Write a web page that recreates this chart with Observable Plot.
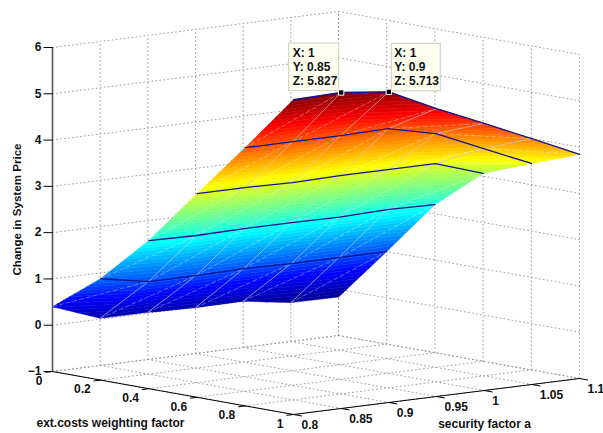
<!DOCTYPE html>
<html><head><meta charset="utf-8">
<style>html,body{margin:0;padding:0;background:#fff}svg{display:block}</style>
<script src="https://cdn.jsdelivr.net/npm/d3@7"></script>
<script src="https://cdn.jsdelivr.net/npm/@observablehq/plot@0.6"></script>
</head><body><div id="chart"></div>
<script>
// Data
const weights = [0, 0.2, 0.4, 0.6, 0.8, 1];
const security = [0.8, 0.85, 0.9, 0.95, 1, 1.05, 1.1];
const priceAt0   = [0.40, 0.02, 0.02, -0.01, 0.00, -0.16, -0.17];
const priceAt02  = [1.19, 1.00, 1.00, 1.02, 1.00, 1.00, 1.00];
const priceAt04  = [2.20, 2.18, 2.20, 2.20, 2.19, 2.22, 2.20];
const priceAt06  = [3.40, 3.40, 3.38, 3.40, 3.40, 3.40, 3.06];
const priceAt08  = [4.58, 4.58, 4.58, 4.60, 4.365, 3.91, 3.46];
const priceAt1   = [5.80, 5.827, 5.713, 5.22, 4.77, 4.31, 3.84];
const priceRows = [priceAt0, priceAt02, priceAt04, priceAt06, priceAt08, priceAt1];
const priceTicks = [-1, 0, 1, 2, 3, 4, 5, 6];
const weightLabels = ["0", "0.2", "0.4", "0.6", "0.8", "1"];
const securityLabels = ["0.8", "0.85", "0.9", "0.95", "1", "1.05", "1.1"];
const priceLabels = ["\u22121", "0", "1", "2", "3", "4", "5", "6"];
const tips = [
  {x: 1, y: 0.85, z: 5.827, label: "X: 1\nY: 0.85\nZ: 5.827"},
  {x: 1, y: 0.9, z: 5.713, label: "X: 1\nY: 0.9\nZ: 5.713"}
];

// Orthographic view of the axes box
const W = [0, 1], S = [0.8, 1.1], Z = [-1, 6];
const nx = x => (x - W[0]) / (W[1] - W[0]);
const ny = y => (y - S[0]) / (S[1] - S[0]);
const nz = z => (z - Z[0]) / (Z[1] - Z[0]);
const U = (x, y) => (241 * nx(x) + 286 * ny(y)) / 527;
const V = (x, y, z) => (43 * (1 - nx(x)) + 36 * ny(y) + 324 * nz(z)) / 403;
const at = (x, y, z) => ({u: U(x, y), v: V(x, y, z), x, y, z});

// Jet colour map over the surface's value range
const zMin = d3.min(priceRows.flat()), zMax = d3.max(priceRows.flat());
const jetT = [0, 0.125, 0.375, 0.625, 0.875, 1];
const jetC = ["#000090", "#0000ff", "#00ffff", "#ffff00", "#ff0000", "#800000"];
const levels = 64, dz = (zMax - zMin) / levels;

function clip(poly, level, keepAbove) {
  const out = [];
  poly.forEach((p, i) => {
    const q = poly[(i + 1) % poly.length];
    const pin = keepAbove ? p.z >= level : p.z <= level;
    const qin = keepAbove ? q.z >= level : q.z <= level;
    if (pin) out.push(p);
    if (pin !== qin) {
      const t = (level - p.z) / (q.z - p.z);
      out.push({x: p.x + t * (q.x - p.x), y: p.y + t * (q.y - p.y), z: level});
    }
  });
  return out;
}

// Triangulated patches sliced into the colour map's 64 flat bands
const cells = [];
let id = 0;
const triangles = [];
for (let i = 0; i < weights.length - 1; i++)
  for (let j = security.length - 2; j >= 0; j--) {
    const c = (a, b) => ({x: weights[a], y: security[b], z: priceRows[a][b]});
    triangles.push([c(i, j), c(i + 1, j), c(i + 1, j + 1)]);
    triangles.push([c(i, j), c(i + 1, j + 1), c(i, j + 1)]);
  }
for (const tri of triangles) {
  const lo = d3.min(tri, d => d.z), hi = d3.max(tri, d => d.z);
  const first = Math.max(0, Math.floor((lo - zMin) / dz));
  const last = Math.min(levels - 1, Math.floor((hi - zMin) / dz));
  for (let k = first; k <= last; k++) {
    const a = zMin + k * dz, b = a + dz;
    const poly = clip(clip(tri, a, true), b, false);
    if (poly.length < 3) continue;
    id++;
    for (const p of [...poly, poly[0]]) cells.push({...at(p.x, p.y, p.z), band: id, mid: a + dz / 2});
  }
}

// Polylines
const series = (rows) => rows.flatMap((r, k) => r.map(p => ({...p, s: k})));
const wallX0 = [
  ...priceTicks.map(z => [at(0, S[0], z), at(0, S[1], z)]),
  ...security.map(y => [at(0, y, Z[0]), at(0, y, Z[1])])
];
const wallY1 = [
  ...priceTicks.map(z => [at(0, S[1], z), at(1, S[1], z)]),
  ...weights.map(x => [at(x, S[1], Z[0]), at(x, S[1], Z[1])])
];
const floor = [
  ...weights.map(x => [at(x, S[0], Z[0]), at(x, S[1], Z[0])]),
  ...security.map(y => [at(0, y, Z[0]), at(1, y, Z[0])])
];
const constWeight = weights.slice(1).map((x, i) => security.map((y, j) => at(x, y, priceRows[i + 1][j])));
const constSecurity = security.slice(1, -1).map((y, j) => weights.map((x, i) => at(x, y, priceRows[i][j + 1])));
const diagonals = [];
for (let i = 0; i < weights.length - 1; i++)
  for (let j = 0; j < security.length - 1; j++)
    diagonals.push([at(weights[i], security[j], priceRows[i][j]), at(weights[i + 1], security[j + 1], priceRows[i + 1][j + 1])]);

const font = {fontFamily: "'Liberation Sans', Arial, sans-serif", fontWeight: "bold", fill: "#111"};
const pl = (rows, o) => Plot.line(series(rows), {x: "u", y: "v", z: "s", ...o});
const tipData = tips.map(t => ({...t, ...at(t.x, t.y, t.z)}));

const chart = Plot.plot({
  width: 603, height: 433, margin: 0,
  x: {domain: [0, 1], range: [52, 579], axis: null},
  y: {domain: [0, 1], range: [414, 11], axis: null},
  color: {type: "linear", domain: jetT.map(t => zMin + t * (zMax - zMin)), range: jetC, interpolate: "rgb"},
  marks: [
    pl([...wallX0, ...wallY1, ...floor], {stroke: "#999", strokeWidth: 0.9, strokeDasharray: "1 3"}),
    Plot.line(cells, {x: "u", y: "v", z: "band", fill: "mid", stroke: "mid", strokeWidth: 0.5}),
    pl(diagonals, {stroke: "#fff", strokeWidth: 0.55, strokeOpacity: 0.6, strokeDasharray: "4 3"}),
    pl(constSecurity, {stroke: "#c8c8d8", strokeWidth: 0.75, strokeOpacity: 0.85}),
    pl(constWeight, {stroke: "#14148c", strokeWidth: 1.3}),
    // axes
    pl([[at(0, S[0], Z[0]), at(0, S[0], Z[1])]], {stroke: "#555", strokeWidth: 1.6}),
    pl([[at(0, S[0], Z[0]), at(1, S[0], Z[0])], [at(1, S[0], Z[0]), at(1, S[1], Z[0])]], {stroke: "#000", strokeWidth: 1}),
    Plot.link(weights, {x1: x => U(x, S[0]), y1: x => V(x, S[0], Z[0]), x2: x => U(x, S[0] - 0.0075), y2: x => V(x, S[0] - 0.0075, Z[0]), stroke: "#000", strokeWidth: 1}),
    Plot.link(security, {x1: y => U(1, y), y1: y => V(1, y, Z[0]), x2: y => U(1.035, y), y2: y => V(1.035, y, Z[0]), stroke: "#000", strokeWidth: 1}),
    Plot.link(priceTicks, {x1: () => U(0, S[0]), y1: z => V(0, S[0], z), x2: () => U(0, S[0]) - 9 / 527, y2: z => V(0, S[0], z), stroke: "#000", strokeWidth: 1}),
    // tick labels
    Plot.text(weightLabels, {x: (d, i) => U(weights[i], S[0]), y: (d, i) => V(weights[i], S[0], Z[0]), text: d => d, textAnchor: "end", dx: -10, dy: 9.5, fontSize: 12, ...font}),
    Plot.text(securityLabels, {x: (d, i) => U(1, security[i]), y: (d, i) => V(1, security[i], Z[0]), text: d => d, textAnchor: "start", dx: 8, dy: 10.5, fontSize: 12, ...font}),
    Plot.text(priceLabels, {x: () => U(0, S[0]), y: (d, i) => V(0, S[0], priceTicks[i]), text: d => d, textAnchor: "end", dx: -11, fontSize: 12, ...font}),
    // axis titles
    Plot.text(["ext.costs weighting factor"], {x: () => U(0.5, S[0]), y: () => V(0.5, S[0], Z[0]), dx: -62.5, dy: 30.5, fontSize: 12, ...font}),
    Plot.text(["security factor a"], {x: () => U(1, 0.95), y: () => V(1, 0.95, Z[0]), dx: 48, dy: 28, fontSize: 12, ...font}),
    Plot.text(["Change in System Price"], {x: () => U(0, S[0]) - 35 / 527, y: () => V(0, S[0], 2.5), rotate: -90, fontSize: 11.6, ...font}),
    // data tips
    Plot.rect(tipData.slice(0, 1), {x1: "u", x2: "u", y1: "v", y2: "v", insetLeft: -52, insetRight: 2, insetTop: -49, insetBottom: 1.5, fill: "#fffff0", stroke: "#d4d4cc", strokeWidth: 1.2}),
    Plot.rect(tipData.slice(1), {x1: "u", x2: "u", y1: "v", y2: "v", insetLeft: 3, insetRight: -52, insetTop: -48, insetBottom: 0.5, fill: "#fffff0", stroke: "#d4d4cc", strokeWidth: 1.2}),
    Plot.text(tipData.slice(0, 1), {x: "u", y: "v", text: "label", textAnchor: "start", lineAnchor: "top", lineHeight: 1.17, dx: -48.5, dy: -45.5, fontSize: 12, ...font}),
    Plot.text(tipData.slice(1), {x: "u", y: "v", text: "label", textAnchor: "start", lineAnchor: "top", lineHeight: 1.17, dx: 5.5, dy: -44.5, fontSize: 12, ...font}),
    Plot.dot(tipData, {x: "u", y: "v", symbol: "square", r: 3, fill: "#000", stroke: "#fffff0", strokeWidth: 1})
  ]
});
document.getElementById("chart").append(chart);
</script></body></html>
